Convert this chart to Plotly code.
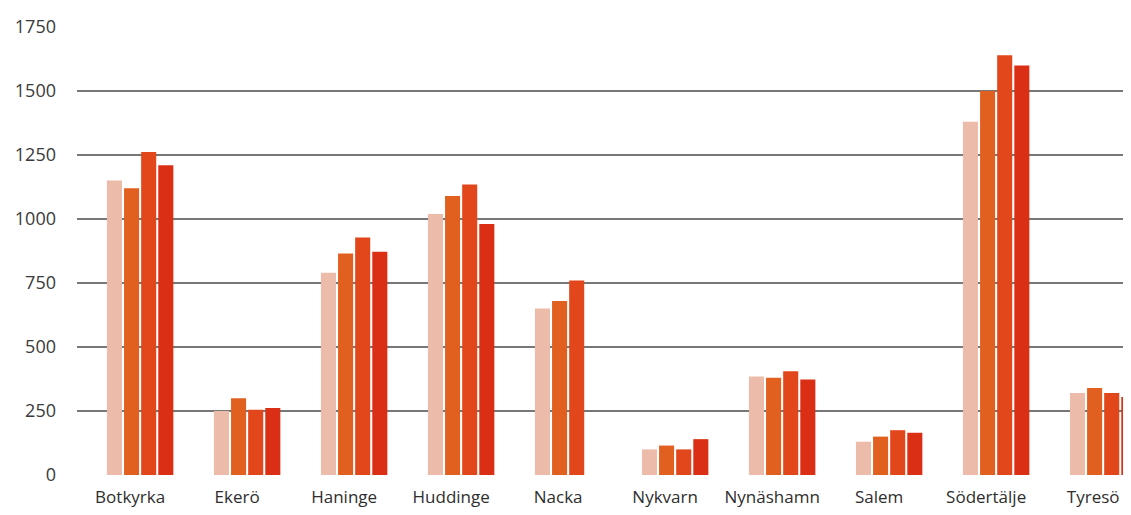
import plotly.graph_objects as go

categories = ["Botkyrka", "Ekerö", "Haninge", "Huddinge", "Nacka", "Nykvarn",
              "Nynäshamn", "Salem", "Södertälje", "Tyresö"]

series_1 = [1150, 250, 790, 1020, 650, 100, 385, 130, 1380, 320]
series_2 = [1120, 300, 865, 1090, 680, 115, 380, 150, 1500, 340]
series_3 = [1262, 255, 928, 1135, 760, 100, 405, 175, 1640, 320]
series_4 = [1210, 262, 872, 980, None, 140, 373, 165, 1600, 305]

series_names = ["Serie 1", "Serie 2", "Serie 3", "Serie 4"]
series_values = [series_1, series_2, series_3, series_4]
series_colors = ["#EDBBAA", "#E2601F", "#E2461B", "#DA2F14"]

y_ticks = [0, 250, 500, 750, 1000, 1250, 1500, 1750]
grid_values = [250, 500, 750, 1000, 1250, 1500]

fig = go.Figure()
for name, vals, col in zip(series_names, series_values, series_colors):
    fig.add_trace(go.Bar(
        x=categories, y=vals, name=name,
        marker=dict(color=col, line=dict(width=0)),
    ))

for g in grid_values:
    fig.add_hline(y=g, line=dict(color="#4a4a4a", width=1.4), layer="below")

fig.update_layout(
    width=1131, height=515,
    margin=dict(l=69, r=0, t=19, b=48),
    paper_bgcolor="white", plot_bgcolor="white",
    barmode="group", bargap=0.36, bargroupgap=0.12,
    showlegend=False,
    font=dict(family="Open Sans", color="#333333", size=17),
    xaxis=dict(
        range=[-0.59, 9.335], showgrid=False, showline=False, zeroline=False,
        ticks="", tickfont=dict(size=17, color="#2e2e2e"), automargin=False,
        ticklabelstandoff=10, ticklabelshift=-10,
    ),
    yaxis=dict(
        range=[0, 1750], tickvals=y_ticks, showgrid=False, zeroline=False,
        showline=False, ticks="", ticklabelstandoff=20, automargin=False,
        tickfont=dict(size=18, color="#3a3a3a"),
    ),
)

fig.write_html("out.html")
